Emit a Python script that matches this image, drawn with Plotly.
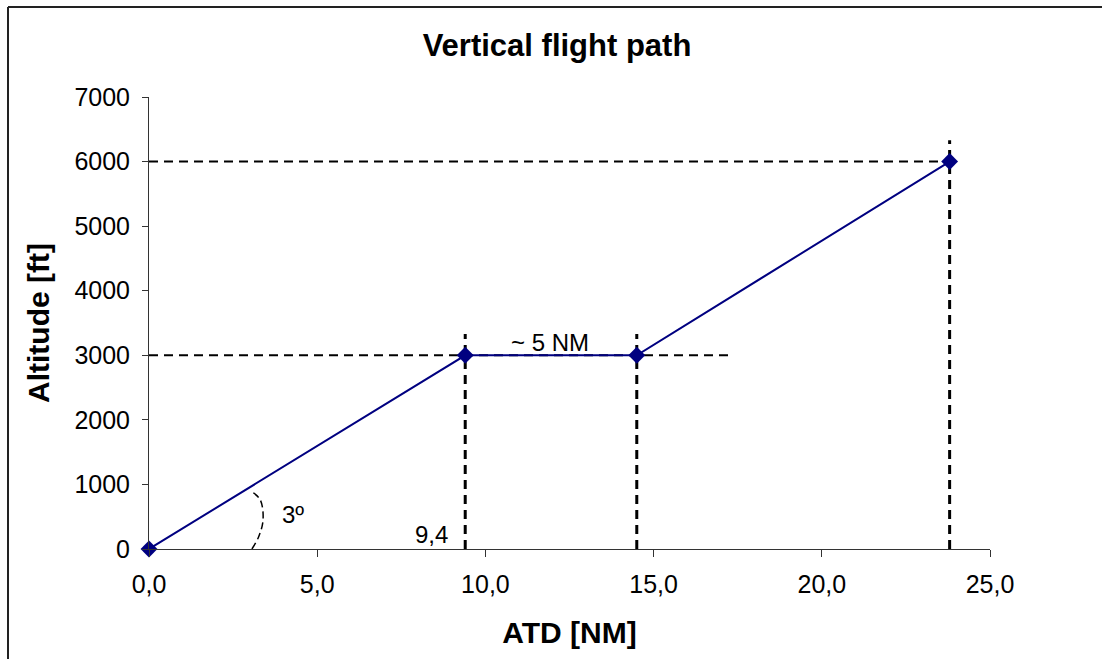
import plotly.graph_objects as go

# ---- data ----
atd = [0.0, 9.4, 14.5, 23.8]          # NM
alt = [0, 3000, 3000, 6000]           # ft

# dashed guide lines
vline_x = [9.4, 14.5, 23.8]
vline_top = [3330, 3330, 6330]
hline_y = [3000, 6000]
hline_end = [17.3, 23.8]

# angle arc
arc_x = [3.06, 3.26, 3.39, 3.31, 3.06]
arc_y = [0, 190, 449, 759, 887]

x_ticks = [0, 5, 10, 15, 20, 25]
y_ticks = [0, 1000, 2000, 3000, 4000, 5000, 6000, 7000]

FONT = "Liberation Sans, Arial, sans-serif"
W, H = 1102, 659
ML, MR, MT, MB = 149, 112, 97, 110
PW, PH = W - ML - MR, H - MT - MB

fig = go.Figure()

# vertical dashed lines
for x, top in zip(vline_x, vline_top):
    fig.add_trace(go.Scatter(x=[x, x], y=[0, top], mode="lines",
                             line=dict(color="black", width=3, dash="9px,6px"),
                             hoverinfo="skip", showlegend=False, cliponaxis=False))
# horizontal dashed lines
for y, xe in zip(hline_y, hline_end):
    fig.add_trace(go.Scatter(x=[0, xe], y=[y, y], mode="lines",
                             line=dict(color="black", width=2, dash="9px,6px"),
                             hoverinfo="skip", showlegend=False, cliponaxis=False))
# arc
fig.add_trace(go.Scatter(x=arc_x, y=arc_y, mode="lines",
                         line=dict(color="black", width=1.5, dash="7px,4px", shape="spline"),
                         hoverinfo="skip", showlegend=False))

# flight path
fig.add_trace(go.Scatter(x=atd, y=alt, mode="lines+markers",
                         line=dict(color="#000080", width=2),
                         marker=dict(symbol="diamond", size=13, color="#000080"),
                         showlegend=False, cliponaxis=False))

ANN_FONT = dict(family=FONT, size=24, color="black")
fig.add_annotation(x=4.28, y=542, text="3º", showarrow=False, font=ANN_FONT)
fig.add_annotation(x=8.41, y=232, text="9,4", showarrow=False, font=ANN_FONT)
fig.add_annotation(x=11.93, y=3205, text="~ 5 NM", showarrow=False, font=ANN_FONT)

# outer border: left and top edges only (the rest lies outside the picture)
bx0 = (8 - ML) / PW
by1 = (H - MB - 7) / PH
fig.add_shape(type="line", xref="paper", yref="paper",
              x0=bx0, x1=bx0, y0=-(MB + 5) / PH, y1=by1,
              line=dict(color="#222222", width=2), layer="below")
fig.add_shape(type="line", xref="paper", yref="paper",
              x0=bx0, x1=(W + 5 - ML) / PW, y0=by1, y1=by1,
              line=dict(color="#222222", width=2), layer="below")

fig.update_layout(
    width=W, height=H,
    margin=dict(l=ML, r=MR, t=MT, b=MB),
    paper_bgcolor="white", plot_bgcolor="white",
    separators=", ",
    font=dict(family=FONT, color="black"),
    title=dict(text="<b>Vertical flight path</b>", x=557 / W, xanchor="center",
               y=1 - 45 / H, yanchor="middle",
               font=dict(family=FONT, size=31, color="black")),
    xaxis=dict(range=[0, 25], tickvals=x_ticks, tickformat=".1f",
               showgrid=False, zeroline=False, showline=True, linecolor="#333333",
               linewidth=1, ticks="outside", ticklen=7, tickcolor="#333333",
               ticklabelstandoff=6,
               tickfont=dict(family=FONT, size=25, color="black"),
               title=dict(text="<b>ATD [NM]</b>", font=dict(family=FONT, size=30, color="black"),
                          standoff=24)),
    yaxis=dict(range=[0, 7000], tickvals=y_ticks, tickformat="d",
               showgrid=False, zeroline=False, showline=True, linecolor="#333333",
               linewidth=1, ticks="outside", ticklen=6, tickcolor="#333333",
               ticklabelstandoff=7,
               tickfont=dict(family=FONT, size=25, color="black"),
               title=dict(text="<b>Altitude [ft]</b>", font=dict(family=FONT, size=30, color="black"),
                          standoff=15)),
)

fig.write_html("out.html")
